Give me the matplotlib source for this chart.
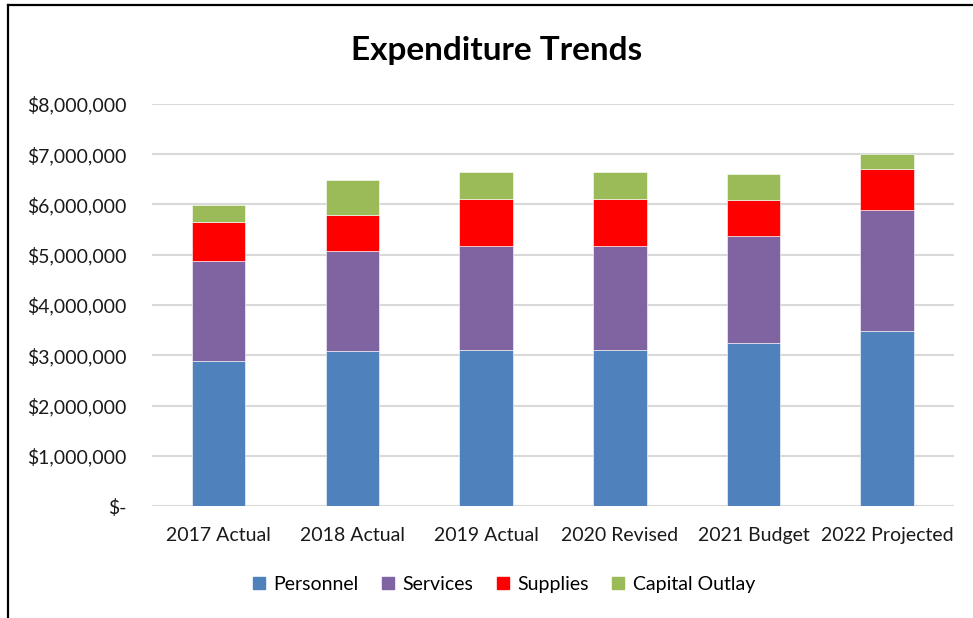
import numpy as np
import matplotlib.pyplot as plt
from matplotlib.lines import Line2D
from matplotlib.ticker import FuncFormatter

plt.rcParams['font.family'] = ['Lato', 'DejaVu Sans']

years = ['2017 Actual', '2018 Actual', '2019 Actual', '2020 Revised', '2021 Budget', '2022 Projected']
personnel = [2885000, 3080000, 3100000, 3100000, 3240000, 3480000]
services = [1985000, 1990000, 2070000, 2070000, 2130000, 2410000]
supplies = [780000, 720000, 940000, 940000, 710000, 820000]
capital = [340000, 700000, 540000, 540000, 520000, 290000]

series = [('Personnel', personnel, '#4F81BD'),
          ('Services', services, '#8064A2'),
          ('Supplies', supplies, '#FF0000'),
          ('Capital Outlay', capital, '#9BBB59')]

fig = plt.figure(figsize=(9.73, 6.18), dpi=100)
ax = fig.add_axes([0.156, 0.181, 0.8245, 0.651])

x = np.arange(len(years))
bottom = np.zeros(len(years))
handles = []
for name, vals, col in series:
    ax.bar(x, vals, 0.4, bottom=bottom, color=col, edgecolor='white', linewidth=0.4, zorder=3)
    bottom += np.array(vals)
    handles.append(Line2D([], [], marker='s', linestyle='none', markersize=8,
                          markerfacecolor=col, markeredgecolor=col, label=name))

ax.set_xlim(-0.5, len(years) - 0.5)
ax.set_ylim(0, 8000000)
ax.set_yticks(np.arange(0, 8000001, 1000000))
ax.yaxis.set_major_formatter(FuncFormatter(lambda v, p: '$-' if v == 0 else '${:,.0f}'.format(v)))
ax.set_xticks(x)
ax.set_xticklabels(years)
ax.grid(axis='y', color='#d9d9d9', linewidth=1.5, zorder=0)
for s in ax.spines.values():
    s.set_visible(False)
ax.tick_params(axis='y', length=0, pad=18, labelsize=14, colors='#1a1a1a')
ax.tick_params(axis='x', length=0, pad=15, labelsize=14, colors='#1a1a1a')

fig.text(0.51, 0.918, 'Expenditure Trends', ha='center', va='center',
         fontsize=24, fontweight='bold')

fig.legend(handles=handles, loc='center', bbox_to_anchor=(0.517, 0.055), ncol=4,
           frameon=False, fontsize=14, handlelength=0.8, handletextpad=0.35,
           columnspacing=1.1)

# outer frame (left and top edges only)
fig.add_artist(Line2D([8 / 973, 8 / 973], [0, 1 - 5 / 618], transform=fig.transFigure,
                      color='black', linewidth=1.6))
fig.add_artist(Line2D([8 / 973, 1], [1 - 5 / 618, 1 - 5 / 618], transform=fig.transFigure,
                      color='black', linewidth=1.6))

fig.savefig('out.png', dpi=100)
